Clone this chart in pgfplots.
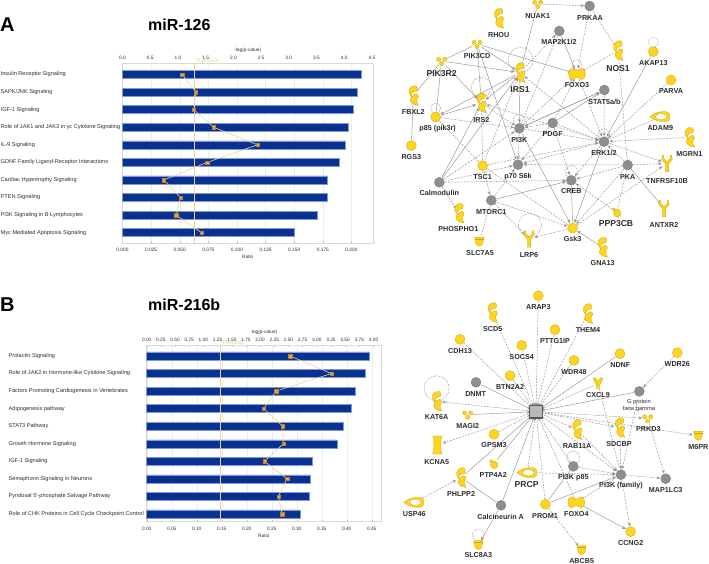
\documentclass[border=0pt]{standalone}
\usepackage{fontspec}
\usepackage{pgfplots}
\pgfplotsset{compat=1.18}
\usetikzlibrary{arrows.meta}
\setmainfont{Liberation Sans}

\definecolor{barblue}{RGB}{11,49,144}
\definecolor{baredge}{RGB}{125,155,220}
\definecolor{mkorange}{RGB}{232,163,61}
\definecolor{mkedge}{RGB}{180,130,50}
\definecolor{linetan}{RGB}{236,212,160}
\definecolor{thr}{RGB}{232,214,160}
\definecolor{gy}{RGB}{255,212,30}
\definecolor{gyd}{RGB}{205,165,10}
\definecolor{gg}{RGB}{142,142,142}
\definecolor{ggd}{RGB}{120,120,120}
\definecolor{edgec}{RGB}{146,146,146}
\definecolor{txt}{RGB}{45,45,45}

\newcommand\tk{\fontsize{4.8}{5.6}\selectfont}
\newcommand\yk{\fontsize{5.6}{6.4}\selectfont}
\newcommand\pM[2]{\pgfpathmoveto{\pgfqpoint{#1pt}{#2pt}}}
\newcommand\pL[2]{\pgfpathlineto{\pgfqpoint{#1pt}{#2pt}}}
\newcommand\pC[6]{\pgfpathcurveto{\pgfqpoint{#1pt}{#2pt}}{\pgfqpoint{#3pt}{#4pt}}{\pgfqpoint{#5pt}{#6pt}}}

% gene glyphs
\pgfdeclareplotmark{enz}{%
  \pgftransformscale{1.15}
  \pM{2.4}{8.5}\pC{-3.5}{9.5}{-6}{3}{-1.8}{-0.8}\pC{-1.8}{2.2}{-0.2}{4}{3}{4}\pC{4.2}{6}{4}{7.5}{2.4}{8.5}\pgfpathclose
  \pM{-1.5}{-1.2}\pC{0.5}{1.5}{4}{3.2}{4.4}{-0.5}\pC{3}{-2}{2}{-4}{4.4}{-8.5}\pC{-1.5}{-8}{-4.5}{-4}{-1.5}{-1.2}\pgfpathclose
  \pgfusepath{fill,stroke}}
\pgfdeclareplotmark{ygl}{%
  \pM{-1.6}{-8.5}\pL{1.6}{-8.5}\pL{1.6}{-0.5}\pL{5.2}{4}\pL{4.6}{8}\pL{3.4}{8}\pL{3}{4.5}\pL{0}{1.5}\pL{-3}{4.5}\pL{-3.4}{8}\pL{-4.6}{8}\pL{-5.2}{4}\pL{-1.6}{-0.5}\pgfpathclose
  \pgfusepath{fill,stroke}}
\pgfdeclareplotmark{vgl}{%
  \pM{-5}{5}\pL{-2.5}{5.5}\pL{0}{2}\pL{2.5}{5.5}\pL{5}{5}\pL{1.2}{-3}\pL{1.2}{-5.5}\pL{-1.2}{-5.5}\pL{-1.2}{-3}\pgfpathclose
  \pgfusepath{fill,stroke}}
\pgfdeclareplotmark{tri}{%
  \pgfpathcircle{\pgfqpoint{-3pt}{1.6pt}}{2.1pt}
  \pgfpathcircle{\pgfqpoint{3pt}{1.6pt}}{2.1pt}
  \pgfpathcircle{\pgfqpoint{0pt}{-2.6pt}}{2.1pt}
  \pgfusepath{fill,stroke}}
\pgfdeclareplotmark{dumb}{%
  \pM{-5}{5.5}\pC{-2}{5.5}{-1.5}{3}{0}{3}\pC{1.5}{3}{2}{5.5}{5}{5.5}\pC{9.5}{5.5}{9.5}{-5.5}{5}{-5.5}\pC{2}{-5.5}{1.5}{-3}{0}{-3}\pC{-1.5}{-3}{-2}{-5.5}{-5}{-5.5}\pC{-9.5}{-5.5}{-9.5}{5.5}{-5}{5.5}\pgfpathclose
  \pgfusepath{fill,stroke}}
\pgfdeclareplotmark{tear}{%
  \pM{-10.5}{0}\pC{-6}{4}{0}{5.5}{6}{5}\pC{11}{4.5}{11}{-4.5}{6}{-5}\pC{0}{-5.5}{-6}{-4}{-10.5}{0}\pgfpathclose
  \pgfusepath{fill,stroke}
  \pgfsetfillcolor{white}
  \pgfpathellipse{\pgfqpoint{1pt}{0pt}}{\pgfqpoint{6pt}{0pt}}{\pgfqpoint{0pt}{2.9pt}}
  \pgfusepath{fill,stroke}}
\pgfdeclareplotmark{cup}{%
  \pM{-4.6}{4.5}\pL{4.6}{4.5}\pL{4.1}{1}\pC{3.5}{-3}{2}{-4.6}{0}{-4.6}\pC{-2}{-4.6}{-3.5}{-3}{-4.1}{1}\pgfpathclose
  \pgfusepath{fill,stroke}
  \pM{-4.3}{2.6}\pL{4.3}{2.6}\pgfusepath{stroke}}
\pgfdeclareplotmark{chan}{%
  \pM{-4.6}{9}\pL{4.6}{9}\pC{3}{4}{3}{-4}{4.6}{-9}\pL{-4.6}{-9}\pC{-3}{-4}{-3}{4}{-4.6}{9}\pgfpathclose
  \pgfusepath{fill,stroke}}
\pgfdeclareplotmark{blob}{%
  \pgfpathcircle{\pgfqpoint{0.6pt}{-0.8pt}}{3.8pt}
  \pgfpathcircle{\pgfqpoint{-2.8pt}{3pt}}{1.6pt}
  \pgfusepath{fill,stroke}}

\pgfplotsset{
  edgeS/.style={draw=edgec,line width=.45pt,shorten >=5.5pt,shorten <=5.5pt},
  edgeD/.style={edgeS,dash pattern=on 2pt off 1.2pt},
  tipped/.style={-{Stealth[length=3.6pt,width=3pt]}},
  gene/.style={only marks,mark options={fill=gy,draw=gyd,line width=.3pt,solid}},
  grey/.style={only marks,mark=*,mark size=5pt,mark options={fill=gg,draw=ggd,line width=.3pt,solid}},
  net/.style={hide axis,scale only axis,clip=false,y dir=reverse,xmin=0,xmax=927,ymin=0},
  lowaxis/.style={
    scale only axis,clip=false,y dir=reverse,
    xbar,bar width=8pt,
    axis line style={draw=gray!30,line width=.5pt},
    tick style={draw=gray!50,line width=.3pt},
    major tick length=1.5pt,
    xmajorgrids,grid style={draw=gray!14,line width=.3pt},
    ytick={0,...,9},y tick style={draw=none},
    xtick pos=bottom,ytick pos=left,
    tick label style={font=\tk,text=txt},
    y tick label style={font=\yk},
    x tick label style={/pgf/number format/fixed,/pgf/number format/fixed zerofill,
      /pgf/number format/assume math mode=true,yshift=-1.5pt},
    xlabel style={font=\tk,text=txt,yshift=3pt},
  },
  topaxis/.style={
    scale only axis,clip=false,y dir=reverse,
    axis x line*=top,axis y line=none,
    axis line style={draw=gray!30,line width=.5pt,-},
    tick style={draw=gray!50,line width=.3pt},
    major tick length=1.5pt,
    tick label style={font=\tk,text=txt},
    x tick label style={/pgf/number format/fixed,/pgf/number format/fixed zerofill,
      /pgf/number format/assume math mode=true},
    xlabel style={font=\tk,text=txt,yshift=-3pt},
  },
}

\tikzset{
  gl/.style={font=\fontsize{7.2}{8}\selectfont\bfseries,text=txt,inner sep=0pt},
  GL/.style={font=\fontsize{8.6}{9.5}\selectfont\bfseries,text=txt,inner sep=0pt},
}

% edges, nodes and labels of the two networks
\newcommand\sn[2]{\edef\tmp{\noexpand\addplot[edgeS] coordinates {(#1) (#2)};}\tmp}
\newcommand\sa[2]{\edef\tmp{\noexpand\addplot[edgeS,tipped] coordinates {(#1) (#2)};}\tmp}
\newcommand\dn[2]{\edef\tmp{\noexpand\addplot[edgeD] coordinates {(#1) (#2)};}\tmp}
\newcommand\da[2]{\edef\tmp{\noexpand\addplot[edgeD,tipped] coordinates {(#1) (#2)};}\tmp}
\newcommand\nd[2]{\edef\tmp{\noexpand\addplot[gene,mark=#1] coordinates {(#2)};}\tmp}
\newcommand\cir[1]{\edef\tmp{\noexpand\addplot[gene,mark=*,mark size=5pt] coordinates {(#1)};}\tmp}
\newcommand\gr[1]{\edef\tmp{\noexpand\addplot[grey] coordinates {(#1)};}\tmp}
\newcommand\lp[3]{\addplot[only marks,mark=o,mark size=#3pt,mark options={draw=edgec,line width=.4pt,dash pattern=on 1.6pt off 1.1pt}] coordinates {(#1,#2)};}
\newcommand\lab[3]{\node[gl] at (axis cs:#1,#2) {#3};}
\newcommand\LAB[3]{\node[GL] at (axis cs:#1,#2) {#3};}

\begin{document}
\begin{tikzpicture}[x=1pt,y=1pt]
\path[use as bounding box] (0,0) rectangle (709,564);

%% panel A chart
\begin{axis}[lowaxis,at={(122.5pt,321pt)},anchor=south west,width=250.5pt,height=180pt,
  xmin=0,xmax=0.2188,ymin=-0.654,ymax=9.586,
  xtick={0,0.025,0.05,0.075,0.1,0.125,0.15,0.175,0.2},
  x tick label style={/pgf/number format/precision=3},
  xlabel={Ratio},
  yticklabels={Insulin Receptor Signaling,SAPK/JNK Signaling,IGF-1 Signaling,Role of JAK1 and JAK3 in γc Cytokine Signaling,IL-9 Signaling,GDNF Family Ligand-Receptor Interactions,Cardiac Hypertrophy Signaling,PTEN Signaling,PI3K Signaling in B Lymphocytes,Myc Mediated Apoptosis Signaling},
  y tick label style={anchor=west,xshift=-120.5pt,inner sep=0pt},
]
\addplot[fill=barblue,draw=baredge,line width=.5pt] coordinates {
  (0.2084,0) (0.2052,1) (0.2015,2) (0.1968,3) (0.1945,4)
  (0.1892,5) (0.1787,6) (0.1787,7) (0.1697,8) (0.1502,9)};
\end{axis}
\begin{axis}[topaxis,at={(122.5pt,321pt)},anchor=south west,width=250.5pt,height=180pt,
  xmin=0,xmax=4.52,ymin=-0.654,ymax=9.586,
  xtick={0,0.5,1,1.5,2,2.5,3,3.5,4,4.5},
  x tick label style={/pgf/number format/precision=1},
  xlabel={-log(p-value)},
]
\addplot[thr,line width=.45pt] coordinates {(1.3,-0.654) (1.3,9.586)};
\addplot[linetan,line width=.6pt,mark=square*,mark size=1.7pt,
  mark options={fill=mkorange,draw=mkedge,line width=.25pt}] coordinates {
  (1.077,0) (1.323,1) (1.287,2) (1.642,3) (2.436,4)
  (1.528,5) (0.746,6) (1.047,7) (0.968,8) (1.426,9)};
\node[font=\fontsize{5}{6}\selectfont,text=thr!90!orange,inner sep=0pt] at (axis cs:1.53,-0.78) {Threshold};
\end{axis}

%% panel B chart
\begin{axis}[lowaxis,at={(146.7pt,42.3pt)},anchor=south west,width=234.3pt,height=176.7pt,
  xmin=0,xmax=0.4686,ymin=-0.626,ymax=9.44,
  xtick={0,0.05,0.1,0.15,0.2,0.25,0.3,0.35,0.4,0.45},
  x tick label style={/pgf/number format/precision=2},
  xlabel={Ratio},
  yticklabels={Prolactin Signaling,Role of JAK2 in Hormone-like Cytokine Signaling,Factors Promoting Cardiogenesis in Vertebrates,Adipogenesis pathway,STAT3 Pathway,Growth Hormone Signaling,IGF-1 Signaling,Semaphorin Signaling in Neurons,Pyridoxal 5'-phosphate Salvage Pathway,Role of CHK Proteins in Cell Cycle Checkpoint Control},
  y tick label style={anchor=west,xshift=-136.7pt,inner sep=0pt},
]
\addplot[fill=barblue,draw=baredge,line width=.5pt] coordinates {
  (0.4453,0) (0.4367,1) (0.4173,2) (0.4087,3) (0.3933,4)
  (0.3807,5) (0.3320,6) (0.3280,7) (0.3247,8) (0.3073,9)};
\end{axis}
\begin{axis}[topaxis,at={(146.7pt,42.3pt)},anchor=south west,width=234.3pt,height=176.7pt,
  xmin=0,xmax=4.132,ymin=-0.626,ymax=9.44,
  xtick={0,0.25,0.5,0.75,1,1.25,1.5,1.75,2,2.25,2.5,2.75,3,3.25,3.5,3.75,4},
  x tick label style={/pgf/number format/precision=2},
  xlabel={-log(p-value)},
]
\addplot[thr,line width=.45pt] coordinates {(1.3,-0.626) (1.3,9.44)};
\addplot[linetan,line width=.6pt,mark=square*,mark size=1.7pt,
  mark options={fill=mkorange,draw=mkedge,line width=.25pt}] coordinates {
  (2.528,0) (3.257,1) (2.281,2) (2.063,3) (2.399,4)
  (2.410,5) (2.075,6) (2.475,7) (2.322,8) (2.387,9)};
\node[font=\fontsize{5}{6}\selectfont,text=thr!90!orange,inner sep=0pt] at (axis cs:1.52,-0.78) {Threshold};
\end{axis}

%% panel A network, in crop coordinates
\def\NUAK{413,12}\def\PRKAA{569,18}\def\RHOU{296,55}\def\MAPK{478,93}\def\PIKCD{231,132}
\def\PIKRB{125,183}\def\NOSA{654,152}\def\AKAP{760,155}\def\PARVA{813,240}\def\IRSA{360,218}
\def\FOXOC{531,222}\def\STAT{613,270}\def\FBXL{40,287}\def\IRSB{244,309}\def\PEF{107,351}
\def\PIK{358,385}\def\PDGF{458,369}\def\ADAM{781,350}\def\MGRN{868,412}\def\ERK{612,425}
\def\RGS{34,437}\def\TSC{248,497}\def\PSF{354,494}\def\PKA{683,495}\def\TNF{801,490}
\def\CALM{118,547}\def\CREB{514,541}\def\MTOR{274,601}\def\ANTX{792,625}\def\PPP{650,637}
\def\PHOS{177,640}\def\GSK{518,684}\def\LRP{387,716}\def\SLCA{238,725}\def\GNA{607,742}
\begin{axis}[net,at={(400pt,284pt)},anchor=south west,width=309pt,height=280pt,ymax=840]
\da{\NUAK}{\PRKAA}\sn{\NUAK}{\IRSA}\da{\PRKAA}{\FOXOC}\dn{\PRKAA}{\NOSA}
\sa{\MAPK}{\FOXOC}\da{\IRSA}{\MAPK}\dn{\MAPK}{\PIK}\da{\NOSA}{\FOXOC}\dn{\NOSA}{\PKA}
\sa{\PIKCD}{\IRSA}\sa{\PIKCD}{\FOXOC}\sa{\PIKCD}{\PSF}\sn{\PIKCD}{\PIKRB}\sa{\PIKCD}{\IRSB}
\sa{\PIKRB}{\IRSA}\sa{\PIKRB}{\IRSB}\sn{\PIKRB}{\PEF}\sn{\FBXL}{\PIKRB}\sn{\FBXL}{\RGS}
\sa{\IRSA}{\PEF}\sa{\PEF}{\IRSB}\da{\PEF}{\PIK}\dn{\PEF}{\TSC}
\sa{\IRSA}{\IRSB}\sa{\IRSA}{\PIK}\sa{\CALM}{\IRSA}\sa{\CALM}{\IRSB}
\da{\ERK}{\IRSA}\da{\ERK}{\IRSB}\da{\TSC}{\IRSA}\dn{\TSC}{\IRSB}\da{\TSC}{\ERK}\da{\TSC}{\MTOR}\dn{\TSC}{\GSK}
\da{\IRSB}{\PIK}\da{\PIK}{\FOXOC}\sa{\PIK}{\STAT}\da{\PIK}{\ERK}\da{\PIK}{\PSF}\sa{\PIK}{\GSK}
\sa{\PDGF}{\STAT}\da{\PDGF}{\ERK}\da{\PDGF}{\PSF}\da{\PDGF}{\CREB}\da{\PDGF}{\FOXOC}\da{\PDGF}{\PIK}
\da{\STAT}{\ERK}\da{\STAT}{\PIK}\da{\ERK}{\CREB}\da{\ERK}{\PSF}\sa{\ERK}{\GSK}\da{\ERK}{\TNF}
\da{\MGRN}{\ERK}\sa{\AKAP}{\ERK}\da{\PARVA}{\ERK}\dn{\ADAM}{\ERK}\da{\FOXOC}{\ERK}
\da{\PKA}{\CREB}\da{\PKA}{\PSF}\da{\PKA}{\ERK}\sa{\PKA}{\ANTX}\da{\PKA}{\TNF}\da{\PKA}{\GSK}\dn{\PKA}{\PPP}
\da{\CALM}{\CREB}\da{\CALM}{\PIK}\da{\CALM}{\PHOS}\da{\CALM}{\PSF}
\da{\MTOR}{\GSK}\da{\MTOR}{\PSF}\da{\MTOR}{\LRP}\sa{\MTOR}{\CREB}\dn{\MTOR}{\SLCA}
\sn{\CREB}{\GSK}\da{\PPP}{\CREB}\da{\GSK}{\LRP}\sa{\GNA}{\GSK}\da{\GSK}{\TNF}
\lp{760}{127}{5}\lp{531}{195}{5}\lp{107}{325}{5}\lp{358}{360}{6}\lp{612}{405}{6}\lp{514}{515}{6}
\lp{362}{180}{12.5}\lp{244}{262}{10}\lp{390}{675}{11.5}
\nd{tri}{\NUAK}\nd{tri}{\PIKCD}\nd{tri}{\PIKRB}
\nd{enz}{\RHOU}\nd{enz}{\NOSA}\nd{enz}{\IRSA}\nd{enz}{\FBXL}\nd{enz}{\IRSB}\nd{enz}{\MGRN}\nd{enz}{\PHOS}\nd{enz}{\GNA}
\nd{dumb}{\FOXOC}\nd{tear}{\ADAM}\nd{ygl}{\TNF}\nd{ygl}{\ANTX}\nd{ygl}{\LRP}\nd{cup}{\SLCA}\nd{blob}{\PPP}
\cir{\AKAP}\cir{\PARVA}\cir{\PEF}\cir{\RGS}\cir{\TSC}\cir{\GSK}
\gr{\PRKAA}\gr{\MAPK}\gr{\STAT}\gr{\PIK}\gr{\PDGF}\gr{\ERK}\gr{\PSF}\gr{\PKA}\gr{\CALM}\gr{\CREB}\gr{\MTOR}
\lab{413}{47}{NUAK1}\lab{570}{54}{PRKAA}\lab{296}{104}{RHOU}\lab{477}{126}{MAP2K1/2}\lab{231}{167}{PIK3CD}
\LAB{125}{222}{PIK3R2}\LAB{654}{205}{NOS1}\lab{760}{189}{AKAP13}\lab{813}{274}{PARVA}\LAB{360}{270}{IRS1}
\lab{531}{256}{FOXO3}\lab{613}{305}{STAT5a/b}\lab{40}{336}{FBXL2}\lab{244}{360}{IRS2}\lab{113}{387}{p85 (pik3r)}
\lab{358}{419}{PI3K}\lab{458}{403}{PDGF}\lab{781}{385}{ADAM9}\lab{868}{461}{MGRN1}\lab{612}{458}{ERK1/2}
\lab{34}{470}{RGS3}\lab{248}{532}{TSC1}\lab{354}{530}{p70 S6k}\lab{683}{530}{PKA}\lab{801}{543}{TNFRSF10B}
\lab{118}{580}{Calmodulin}\lab{514}{574}{CREB}\lab{274}{635}{MTORC1}\lab{792}{676}{ANTXR2}\LAB{648}{672}{PPP3CB}
\lab{175}{688}{PHOSPHO1}\lab{518}{716}{Gsk3}\lab{387}{766}{LRP6}\lab{240}{758}{SLC7A5}\lab{608}{790}{GNA13}
\end{axis}

%% panel B network, in crop coordinates
\def\AKT{408,380}\def\ARAP{415,32}\def\SCD{277,83}\def\THEM{563,86}\def\PTTG{465,134}\def\CDH{180,163}
\def\SOCS{365,181}\def\WDRA{522,226}\def\NDNF{660,206}\def\WDRB{832,203}\def\BTN{330,272}\def\DNMT{228,292}
\def\CXCL{594,295}\def\GPR{718,319}\def\KAT{110,349}\def\MAGI{203,389}\def\PRKD{743,400}\def\RAB{531,434}
\def\SDCBP{659,428}\def\MSIX{895,452}\def\GPSM{282,448}\def\KCNA{112,480}\def\PTP{281,537}\def\PRCP{382,563}
\def\PEFIVE{520,544}\def\PFAM{663,569}\def\MAPLC{797,581}\def\PHLPP{183,578}\def\USP{43,652}\def\CALN{303,661}
\def\PROM{436,658}\def\FOXOD{529,652}\def\CCNG{692,740}\def\SLCB{235,780}\def\ABCB{545,795}
\begin{axis}[net,at={(400pt,0pt)},anchor=south west,width=309pt,height=279pt,ymax=837]
\da{\ARAP}{\AKT}\da{\SCD}{\AKT}\da{\THEM}{\AKT}\da{\PTTG}{\AKT}\da{\CDH}{\AKT}\da{\SOCS}{\AKT}\da{\WDRA}{\AKT}
\sa{\NDNF}{\AKT}\da{\BTN}{\AKT}\sa{\DNMT}{\AKT}\da{\CXCL}{\AKT}\sa{\GPR}{\AKT}\da{\AKT}{\KAT}\sa{\MAGI}{\AKT}
\da{\AKT}{\PRKD}\da{\AKT}{\RAB}\da{\AKT}{\SDCBP}\da{\AKT}{\MSIX}\da{\GPSM}{\AKT}\da{\AKT}{\KCNA}\sn{\PTP}{\AKT}
\da{\PRCP}{\AKT}\da{\PEFIVE}{\AKT}\da{\AKT}{\PFAM}\sa{\PHLPP}{\AKT}\sa{\CALN}{\AKT}\dn{\PROM}{\AKT}\da{\FOXOD}{\AKT}
\da{\WDRB}{\GPR}\da{\GPR}{\PFAM}\dn{\CXCL}{\PFAM}\da{\RAB}{\PFAM}\da{\SDCBP}{\PFAM}\da{\PRKD}{\MAPLC}
\da{\PFAM}{\MAPLC}\da{\PFAM}{\FOXOD}\da{\PFAM}{\CCNG}\sa{\PROM}{\PFAM}\da{\PEFIVE}{\PFAM}\da{\PRCP}{\PFAM}
\sn{\PROM}{\PEFIVE}\sa{\FOXOD}{\CCNG}\da{\PROM}{\ABCB}\da{\USP}{\PHLPP}\sn{\PHLPP}{\CALN}\sa{\CALN}{\SLCB}
\lp{520}{518}{6.5}\lp{110}{310}{12.5}\lp{235}{750}{6}
\nd{tri}{\MAGI}\nd{tri}{\PRKD}
\nd{enz}{\SCD}\nd{enz}{\THEM}\nd{enz}{\KAT}\nd{enz}{\RAB}\nd{enz}{\SDCBP}\nd{enz}{\PHLPP}
\nd{vgl}{\CXCL}\nd{cup}{\MSIX}\nd{cup}{\SLCB}\nd{cup}{\ABCB}\nd{chan}{\KCNA}\nd{blob}{\PTP}
\nd{tear}{\USP}\nd{tear}{\PRCP}\nd{dumb}{\FOXOD}
\cir{\ARAP}\cir{\PTTG}\cir{\CDH}\cir{\SOCS}\cir{\WDRA}\cir{\NDNF}\cir{\WDRB}\cir{\BTN}\cir{\GPSM}\cir{\PROM}\cir{\CCNG}
\gr{\DNMT}\gr{\GPR}\gr{\PEFIVE}\gr{\PFAM}\gr{\MAPLC}\gr{\CALN}
\addplot[only marks,mark=square*,mark size=6.3pt,mark options={fill=gray!55,draw=black!65,line width=1.3pt}] coordinates {(408,380)};
\lab{415}{66}{ARAP3}\lab{278}{132}{SCD5}\lab{564}{135}{THEM4}\lab{465}{167}{PTTG1IP}\lab{180}{197}{CDH13}
\lab{365}{215}{SOCS4}\lab{522}{260}{WDR48}\lab{661}{240}{NDNF}\lab{832}{236}{WDR26}\lab{330}{306}{BTN2A2}
\lab{227}{326}{DNMT}\lab{594}{331}{CXCL9}
\node[font=\fontsize{5.8}{7.4}\selectfont,text=txt,align=center,inner sep=0pt] at (axis cs:717,361) {G protein\\beta gamma};
\lab{110}{396}{KAT6A}\lab{203}{424}{MAGI2}\lab{745}{432}{PRKD3}\lab{531}{484}{RAB11A}\lab{657}{478}{SDCBP}
\lab{895}{487}{M6PR}\lab{282}{481}{GPSM3}\lab{110}{532}{KCNA5}\lab{280}{571}{PTP4A2}\LAB{380}{598}{PRCP}
\lab{520}{578}{PI3K p85}\lab{663}{603}{PI3K (family)}\lab{797}{615}{MAP1LC3}\lab{183}{627}{PHLPP2}\lab{43}{686}{USP46}
\lab{302}{696}{Calcineurin A}\lab{435}{692}{PROM1}\lab{529}{686}{FOXO4}\lab{692}{773}{CCNG2}\lab{235}{810}{SLC8A3}
\lab{545}{828}{ABCB5}
\node[font=\fontsize{7.6}{8.5}\selectfont\bfseries,text=black,inner sep=0pt] at (axis cs:408,380) {Akt};
\end{axis}

%% panel letters and titles
\node[anchor=west,inner sep=0pt,font=\fontsize{20}{22}\selectfont\bfseries] at (0,539) {A};
\node[anchor=west,inner sep=0pt,font=\fontsize{16}{18}\selectfont\bfseries] at (148,539) {miR-126};
\node[anchor=west,inner sep=0pt,font=\fontsize{20}{22}\selectfont\bfseries] at (0,259) {B};
\node[anchor=west,inner sep=0pt,font=\fontsize{16}{18}\selectfont\bfseries] at (148,259) {miR-216b};
\end{tikzpicture}
\end{document}
